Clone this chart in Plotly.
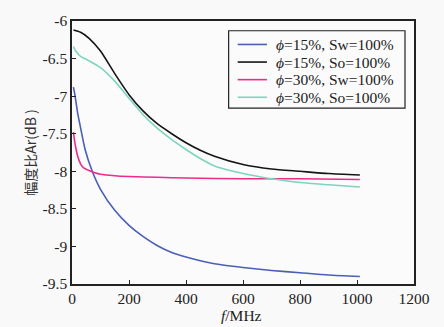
import plotly.graph_objects as go

# ---- data ----
blue_x = [5, 10, 20, 30, 46, 70, 100, 150, 200, 250, 300, 350, 400, 500, 600, 700, 800, 900, 1010]
blue_y = [-6.88, -6.98, -7.23, -7.42, -7.71, -7.99, -8.24, -8.52, -8.72, -8.87, -8.99, -9.08, -9.14, -9.23, -9.28, -9.32, -9.35, -9.38, -9.40]

black_x = [5, 30, 60, 100, 150, 200, 250, 300, 350, 400, 450, 500, 600, 700, 800, 900, 1010]
black_y = [-6.12, -6.15, -6.23, -6.40, -6.70, -6.98, -7.20, -7.37, -7.50, -7.62, -7.72, -7.80, -7.91, -7.97, -8.00, -8.03, -8.05]

pink_x = [5, 10, 15, 20, 30, 40, 60, 80, 100, 150, 200, 300, 400, 600, 800, 1010]
pink_y = [-7.48, -7.62, -7.72, -7.80, -7.90, -7.95, -7.99, -8.02, -8.04, -8.06, -8.07, -8.08, -8.09, -8.10, -8.10, -8.11]

teal_x = [5, 15, 30, 60, 100, 150, 200, 250, 300, 350, 400, 450, 500, 600, 700, 800, 900, 1010]
teal_y = [-6.34, -6.41, -6.47, -6.53, -6.62, -6.80, -7.03, -7.25, -7.43, -7.58, -7.71, -7.83, -7.93, -8.03, -8.10, -8.15, -8.18, -8.21]

series_names = ["<i>ϕ</i>=15%, Sw=100%", "<i>ϕ</i>=15%, So=100%",
                "<i>ϕ</i>=30%, Sw=100%", "<i>ϕ</i>=30%, So=100%"]

x_ticks = [0, 200, 400, 600, 800, 1000, 1200]
x_tick_text = ["0", "200", "400", "600", "800", "1000", "1200"]
y_ticks = [-6, -6.5, -7, -7.5, -8, -8.5, -9, -9.5]
y_tick_text = ["-6", "-6.5", "-7", "-7.5", "-8", "-8.5", "-9", "-9.5"]

colors = ["#4a5fb6", "#151515", "#ee2b8a", "#7dd5bf"]

fig = go.Figure()
for xs, ys, name, c in zip([blue_x, black_x, pink_x, teal_x],
                           [blue_y, black_y, pink_y, teal_y],
                           series_names, colors):
    fig.add_trace(go.Scatter(x=xs, y=ys, mode="lines", name=name, showlegend=False,
                             line=dict(color=c, width=1.6, shape="spline", smoothing=0.6)))

serif = "Liberation Serif"

# legend drawn as a framed box (layout decoration, in paper units)
shapes = [dict(type="rect", xref="paper", yref="paper",
               x0=0.458, x1=0.9737, y0=0.669, y1=0.963,
               line=dict(color="#222222", width=1.2), fillcolor="#fbfbfb", layer="above")]
annotations = []
row_y = [0.9108, 0.8439, 0.7770, 0.7100]
for name, c, ry in zip(series_names, colors, row_y):
    shapes.append(dict(type="line", xref="paper", yref="paper",
                       x0=0.4845, x1=0.570, y0=ry, y1=ry,
                       line=dict(color=c, width=1.6), layer="above"))
    annotations.append(dict(text=name, xref="paper", yref="paper", x=0.5898, y=ry,
                            xanchor="left", yanchor="middle", showarrow=False,
                            font=dict(family=serif, size=15.5, color="#222222")))
annotations.append(dict(text="<i>f</i>/MHz", xref="paper", yref="paper", x=0.497, y=-0.12,
                        xanchor="center", yanchor="middle", showarrow=False,
                        font=dict(family=serif, size=15.5, color="#222222")))

fig.update_layout(
    width=444, height=327,
    margin=dict(l=72, r=30, t=15, b=43),
    paper_bgcolor="#f9f9f9",
    plot_bgcolor="#fbfbfb",
    font=dict(family=serif, size=15, color="#222222"),
    showlegend=False,
    shapes=shapes,
    annotations=annotations,
    xaxis=dict(range=[0, 1200], tickvals=x_ticks, ticktext=x_tick_text,
               ticks="inside", ticklen=4, tickcolor="#222222",
               showline=True, linecolor="#222222", linewidth=1.5, mirror=True,
               showgrid=False, zeroline=False,
               tickfont=dict(family=serif, size=15.5)),
    yaxis=dict(range=[-9.5, -6], tickvals=y_ticks, ticktext=y_tick_text,
               ticks="inside", ticklen=4, tickcolor="#222222",
               showline=True, linecolor="#222222", linewidth=1.5, mirror=True,
               showgrid=False, zeroline=False,
               tickfont=dict(family=serif, size=15.5),
               title=dict(text="幅度比Ar(dB )", standoff=3,
                          font=dict(family="Noto Sans CJK SC", size=14, color="#333333"))),
)

fig.write_html("out.html", config={"displayModeBar": False},
               post_script="document.body.style.margin='0';document.body.style.overflow='hidden';")
